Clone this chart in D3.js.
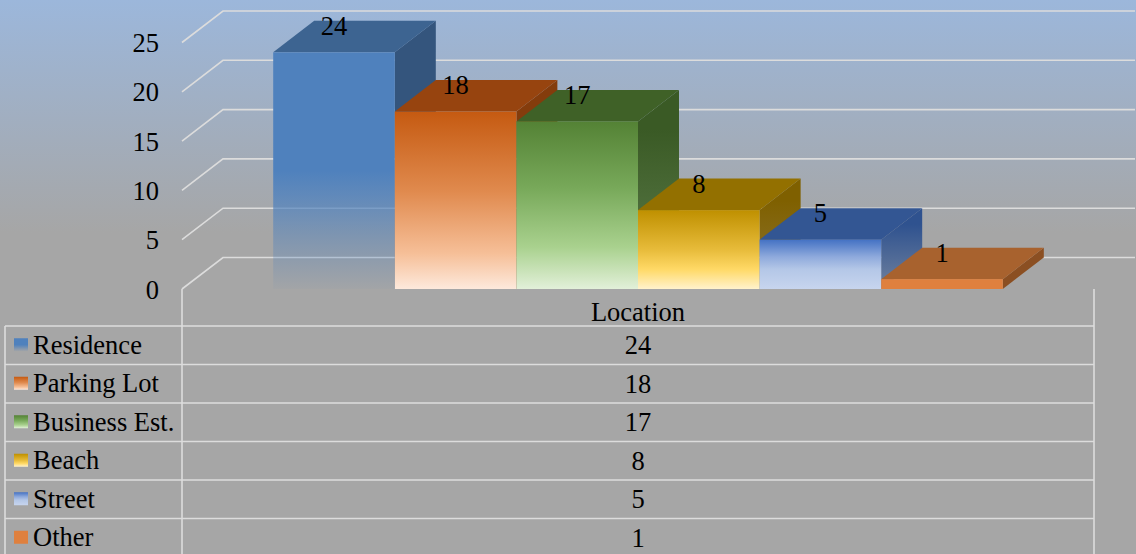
<!DOCTYPE html>
<html lang="en">
<head>
<meta charset="UTF-8">
<title>Location</title>
</head>
<body style="margin:0;background:#a6a6a6">

<div id="chart"></div>

<script src="https://cdn.jsdelivr.net/npm/d3@7"></script>
<script>
const categories = ["Residence", "Parking Lot", "Business Est.", "Beach", "Street", "Other"];
const values = [24, 18, 17, 8, 5, 1];
const yTicks = [0, 5, 10, 15, 20, 25];
const axisTitle = "Location";

const width = 1136, height = 554;
const font = "Liberation Serif";
const fontSize = "26.5px";

// colours of each series: front gradient, top face, side face gradient
const palette = [
    { front: [[0, "#4f81bd", 1], [0.5, "#4f81bd", 1], [0.78, "#4f81bd", 0.45], [1, "#4f81bd", 0.04]], top: "#3d6491", side: ["#34557d", "#34557d"] },
    { front: [[0, "#c55a11"], [0.45, "#e08a4e"], [0.8, "#f6bf98"], [1, "#fde9dc"]], top: "#97440f", side: ["#843c0c", "#843c0c"] },
    { front: [[0, "#548235"], [0.4, "#78a95a"], [0.75, "#a9d18e"], [1, "#e2f0d9"]], top: "#3f6127", side: ["#3a5a25", "#5f7f4d"] },
    { front: [[0, "#bf9000"], [0.5, "#e7bb3a"], [0.75, "#ffd966"], [1, "#fff2cc"]], top: "#937000", side: ["#7f6000", "#8e7633"] },
    { front: [[0, "#4472c4"], [0.35, "#8faadc"], [0.6, "#b4c7e7"], [1, "#c7d5ee"]], top: "#335693", side: ["#2f528f", "#6f819e"] },
    { front: [[0, "#df803e"], [1, "#df803e"]], top: "#a8622e", side: ["#8b4f22", "#8b4f22"] }
];

const plotLeft = 182, plotRight = 1094;
const depthX = 41, depthY = -31.5;
const gridColor = "#dcdcdc";

const svg = d3.select("#chart")
    .append("svg")
    .attr("width", width)
    .attr("height", height)
    .style("display", "block");

const defs = svg.append("defs");

// background
const bg = defs.append("linearGradient")
    .attr("id", "bg")
    .attr("x1", 0).attr("y1", 0).attr("x2", 0).attr("y2", 1);
bg.append("stop").attr("offset", 0).attr("stop-color", "#9cb7db");
bg.append("stop").attr("offset", 0.42).attr("stop-color", "#a6a6a6");
bg.append("stop").attr("offset", 1).attr("stop-color", "#a6a6a6");

svg.append("rect")
    .attr("width", width)
    .attr("height", height)
    .attr("fill", "url(#bg)");

palette.forEach((p, i) => {
    let gf = defs.append("linearGradient")
        .attr("id", "front" + i)
        .attr("x1", 0).attr("y1", 0).attr("x2", 0).attr("y2", 1);
    p.front.forEach(s => {
        gf.append("stop")
            .attr("offset", s[0])
            .attr("stop-color", s[1])
            .attr("stop-opacity", s[2] == null ? 1 : s[2]);
    });
    let gs = defs.append("linearGradient")
        .attr("id", "side" + i)
        .attr("x1", 0).attr("y1", 0).attr("x2", 0).attr("y2", 1);
    gs.append("stop").attr("offset", 0.2).attr("stop-color", p.side[0]);
    gs.append("stop").attr("offset", 1).attr("stop-color", p.side[1]);
});

// scales
const y = d3.scaleLinear()
    .domain([0, 25])
    .range([289, 42.5]);

const x = d3.scaleBand()
    .domain(categories)
    .range([plotLeft, plotRight])
    .paddingInner(0)
    .paddingOuter(0.75);

// gridlines: side wall diagonals and back wall
const grid = svg.append("g")
    .attr("stroke", gridColor)
    .attr("stroke-width", 1.6)
    .attr("fill", "none");

grid.selectAll("path")
    .data(yTicks)
    .join("path")
    .attr("d", d => `M${plotLeft},${y(d)}L${plotLeft + depthX},${y(d) + depthY}L${plotRight + depthX},${y(d) + depthY}`);

// axis labels
svg.append("g")
    .selectAll("text")
    .data(yTicks)
    .join("text")
    .attr("x", 159)
    .attr("y", d => y(d) + 9.5)
    .attr("text-anchor", "end")
    .style("font-family", font)
    .style("font-size", fontSize)
    .text(d => d);

// bars
const bars = svg.append("g")
    .selectAll("g")
    .data(categories)
    .join("g");

bars.each(function (c, i) {
    let g = d3.select(this);
    let x0 = x(c), x1 = x(c) + x.bandwidth();
    let yT = y(values[i]), yB = y(0);
    g.append("path")
        .attr("d", `M${x1},${yT}L${x1 + depthX},${yT + depthY}L${x1 + depthX},${yB + depthY}L${x1},${yB}Z`)
        .attr("fill", `url(#side${i})`);
    g.append("path")
        .attr("d", `M${x0},${yT}L${x0 + depthX},${yT + depthY}L${x1 + depthX},${yT + depthY}L${x1},${yT}Z`)
        .attr("fill", palette[i].top);
    g.append("rect")
        .attr("x", x0)
        .attr("y", yT)
        .attr("width", x.bandwidth())
        .attr("height", yB - yT)
        .attr("fill", `url(#front${i})`);
});

// data labels
svg.append("g")
    .selectAll("text")
    .data(categories)
    .join("text")
    .attr("x", d => x(d) + x.bandwidth() / 2)
    .attr("y", (d, i) => y(values[i]) - 17.5)
    .attr("text-anchor", "middle")
    .style("font-family", font)
    .style("font-size", fontSize)
    .text((d, i) => values[i]);

// data table
const tableTop = 326, rowH = 38.5, tableLeft = 5;
const table = svg.append("g")
    .attr("stroke", gridColor)
    .attr("stroke-width", 1.6)
    .attr("fill", "none");

table.append("line")
    .attr("x1", plotLeft).attr("x2", plotLeft)
    .attr("y1", 289).attr("y2", height);
table.append("line")
    .attr("x1", plotRight).attr("x2", plotRight)
    .attr("y1", 289).attr("y2", height);
table.append("line")
    .attr("x1", tableLeft).attr("x2", tableLeft)
    .attr("y1", tableTop).attr("y2", height);
table.selectAll("line.row")
    .data(categories)
    .join("line")
    .classed("row", true)
    .attr("x1", tableLeft).attr("x2", plotRight)
    .attr("y1", (d, i) => tableTop + i * rowH)
    .attr("y2", (d, i) => tableTop + i * rowH);

svg.append("text")
    .attr("x", (plotLeft + plotRight) / 2)
    .attr("y", 321)
    .attr("text-anchor", "middle")
    .style("font-family", font)
    .style("font-size", fontSize)
    .text(axisTitle);

const rows = svg.append("g")
    .selectAll("g")
    .data(categories)
    .join("g")
    .attr("transform", (d, i) => `translate(0,${tableTop + i * rowH + rowH / 2})`);

rows.append("rect")
    .attr("x", 14)
    .attr("y", -7)
    .attr("width", 14)
    .attr("height", 13)
    .attr("fill", (d, i) => `url(#front${i})`);

rows.append("text")
    .attr("x", 33)
    .attr("y", 8.5)
    .style("font-family", font)
    .style("font-size", fontSize)
    .text(d => d);

rows.append("text")
    .attr("x", (plotLeft + plotRight) / 2)
    .attr("y", 9)
    .attr("text-anchor", "middle")
    .style("font-family", font)
    .style("font-size", fontSize)
    .text((d, i) => values[i]);
</script>
</body>
</html>
